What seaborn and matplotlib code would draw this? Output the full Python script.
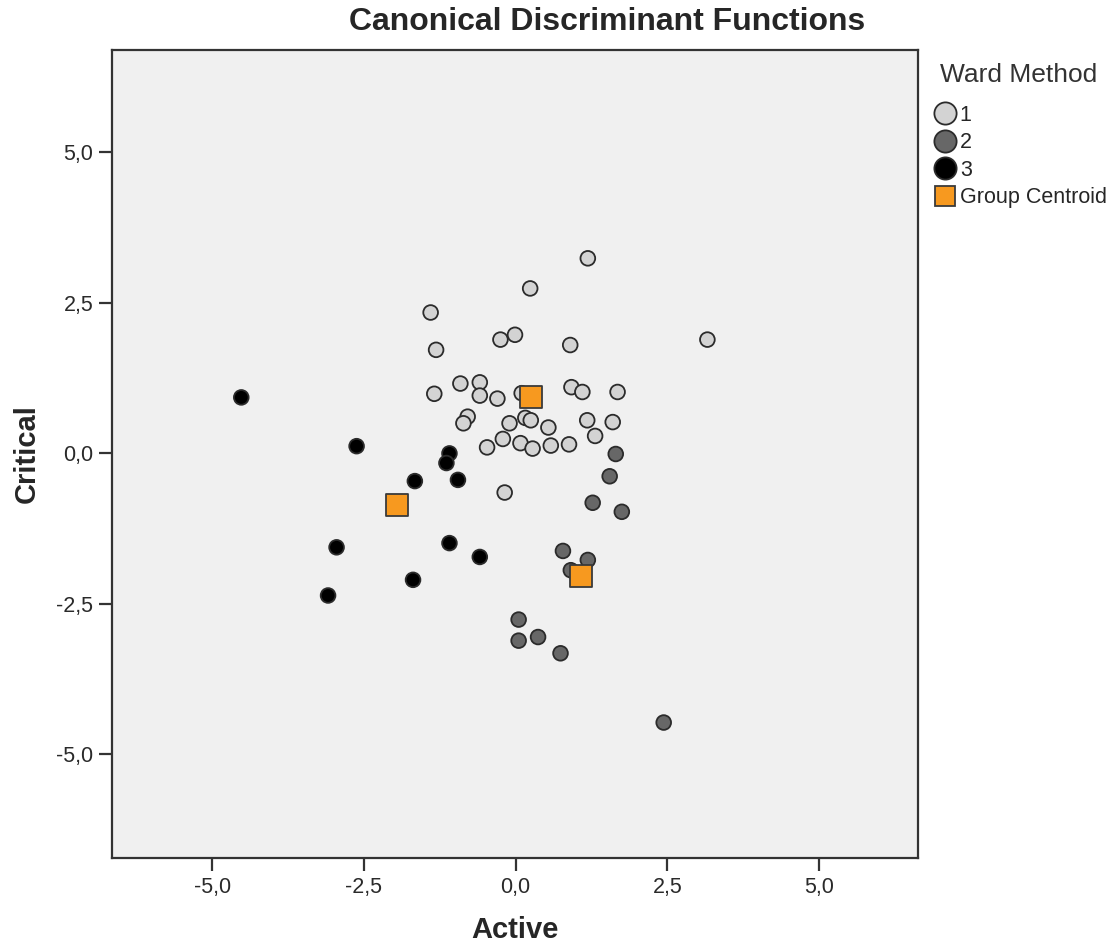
import matplotlib
matplotlib.use("Agg")
import matplotlib.pyplot as plt
from matplotlib.lines import Line2D
import seaborn as sns
import pandas as pd

# ---- data ----
g1_x = [1.19, 0.24, -1.40, -0.25, -0.01, -1.31, 0.90, 3.16, -1.34, -0.91, -0.59,
        -0.59, -0.30, 0.10, 0.92, 1.10, 1.68, -0.79, -0.86, -0.10, 0.16, 0.25,
        0.54, 1.18, 1.60, 1.31, -0.47, -0.21, 0.08, 0.28, 0.58, 0.88, -0.18]
g1_y = [3.24, 2.74, 2.34, 1.89, 1.97, 1.72, 1.80, 1.89, 0.99, 1.16, 1.18,
        0.96, 0.91, 1.00, 1.10, 1.02, 1.02, 0.61, 0.50, 0.50, 0.59, 0.55,
        0.43, 0.55, 0.52, 0.29, 0.10, 0.24, 0.17, 0.08, 0.13, 0.15, -0.65]
g2_x = [1.65, 1.55, 1.27, 1.75, 0.78, 1.19, 0.91, 0.05, 0.05, 0.37, 0.74, 2.44]
g2_y = [-0.01, -0.38, -0.82, -0.97, -1.62, -1.77, -1.94, -2.76, -3.11, -3.05, -3.32, -4.47]
g3_x = [-4.52, -2.62, -1.09, -1.14, -1.66, -0.95, -2.95, -1.09, -0.59, -1.69, -3.09]
g3_y = [0.93, 0.12, 0.00, -0.16, -0.46, -0.44, -1.56, -1.49, -1.72, -2.10, -2.36]
centroid_x = [0.25, -1.95, 1.07]
centroid_y = [0.94, -0.85, -2.03]
groups = ["1", "2", "3"]
tick_vals = [-5.0, -2.5, 0.0, 2.5, 5.0]
tick_labels = ["-5,0", "-2,5", "0,0", "2,5", "5,0"]

df = pd.DataFrame({
    "Active": g1_x + g2_x + g3_x,
    "Critical": g1_y + g2_y + g3_y,
    "Ward": ["1"] * len(g1_x) + ["2"] * len(g2_x) + ["3"] * len(g3_x),
})
cent = pd.DataFrame({"Active": centroid_x, "Critical": centroid_y, "Ward": groups})

colors = {"1": "#d3d3d3", "2": "#676767", "3": "#000000"}
orange = "#f7991f"
edge = "#2b2b2b"

sns.set_theme(style="white")
plt.rcParams["font.family"] = ["Liberation Sans", "DejaVu Sans"]

fig = plt.figure(figsize=(11.15, 9.46), dpi=100)
ax = fig.add_axes([112 / 1115, 1 - 858 / 946, (918 - 112) / 1115, (858 - 50) / 946])
ax.set_facecolor("#f0f0f0")

sns.scatterplot(data=df, x="Active", y="Critical", hue="Ward", palette=colors,
                s=112, edgecolor=edge, linewidth=1.3, legend=False, ax=ax, zorder=3)
sns.scatterplot(data=cent, x="Active", y="Critical", color=orange, marker="s",
                s=250, edgecolor="#3a3a3a", linewidth=1.3, legend=False, ax=ax, zorder=4)

ax.set_xlim(-6.65, 6.63)
ax.set_ylim(-6.72, 6.70)
ax.set_xticks(tick_vals)
ax.set_xticklabels(tick_labels)
ax.set_yticks(tick_vals)
ax.set_yticklabels(tick_labels)
ax.tick_params(axis="both", direction="out", length=9.5, width=1.6, color="#333333",
               labelsize=15.5, labelcolor="#2a2a2a", pad=4, left=True, bottom=True)
for sp in ax.spines.values():
    sp.set_color("#333333")
    sp.set_linewidth(1.6)

ax.set_xlabel("Active", fontsize=21, fontweight="bold", labelpad=13)
ax.set_ylabel("Critical", fontsize=21, fontweight="bold", labelpad=11)

fig.text(607 / 1115, 1 - 22 / 946, "Canonical Discriminant Functions",
         ha="center", va="center", fontsize=23, fontweight="bold")

fig.text(1019 / 1115, 1 - 75 / 946, "Ward Method", ha="center", va="center",
         fontsize=19, color="#333333")

handles = [
    Line2D([], [], linestyle="none", marker="o", markersize=16, markerfacecolor=colors["1"],
           markeredgecolor=edge, markeredgewidth=1.3),
    Line2D([], [], linestyle="none", marker="o", markersize=16, markerfacecolor=colors["2"],
           markeredgecolor=edge, markeredgewidth=1.3),
    Line2D([], [], linestyle="none", marker="o", markersize=16, markerfacecolor=colors["3"],
           markeredgecolor=edge, markeredgewidth=1.3),
    Line2D([], [], linestyle="none", marker="s", markersize=15, markerfacecolor=orange,
           markeredgecolor="#3a3a3a", markeredgewidth=1.3),
]
leg = fig.legend(handles, groups + ["Group Centroid"], loc="upper left",
                 bbox_to_anchor=(934 / 1115, 1 - 105 / 946), frameon=False,
                 fontsize=15.5, handlelength=1.0, handletextpad=0.2,
                 labelspacing=0.3, borderpad=0.0, borderaxespad=0.0)

fig.savefig("out.png", dpi=100, facecolor="white")
